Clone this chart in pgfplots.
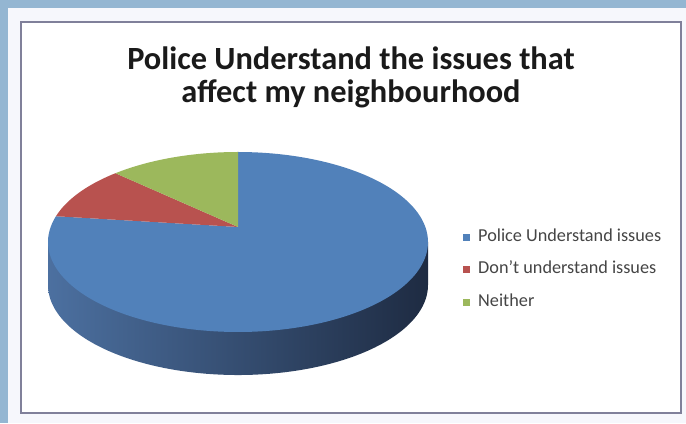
\documentclass[border=0pt]{standalone}
\usepackage{pgfplots}
\pgfplotsset{compat=1.18}
\usepackage{fontspec}
\setmainfont{Carlito}
\definecolor{frameblue}{HTML}{94B6D2}
\definecolor{paleback}{HTML}{F6F7FC}
\definecolor{boxline}{HTML}{80809A}
\definecolor{pieblue}{HTML}{5181BA}
\definecolor{piered}{HTML}{B8524F}
\definecolor{piegreen}{HTML}{9CB85C}
\definecolor{sideA}{HTML}{4C70A0}
\definecolor{sideB}{HTML}{30496F}
\definecolor{sideC}{HTML}{1E2B42}
\definecolor{titlecol}{HTML}{1A1A1A}
\definecolor{legcol}{HTML}{454545}

% shares in percent, clockwise from 12 o'clock
\def\vPolice{77}
\def\vDont{10}
\def\vNeither{13}
\pgfmathsetmacro\aA{90-3.6*\vPolice}
\pgfmathsetmacro\aB{\aA-3.6*\vDont}
\pgfmathsetmacro\aC{\aB-3.6*\vNeither}
% perspective and depth of the 3-D pie
\def\pp{0.0841}
\pgfmathsetmacro\cc{2*\pp/(1+\pp*\pp)}
\def\dd{0.478}

\begin{document}
\begin{tikzpicture}[x=1bp,y=1bp]
\useasboundingbox (0,0) rectangle (686,423);
\fill[frameblue] (0,0) rectangle (686,423);
\fill[paleback] (8,0) rectangle (686,415);
\filldraw[fill=white, draw=boxline, line width=2.5bp] (21,10) rectangle (681,401);

\node[anchor=base, font=\fontsize{32.5}{34}\selectfont\bfseries, text=titlecol] at (351,354) {Police Understand the issues that};
\node[anchor=base, font=\fontsize{32.5}{34}\selectfont\bfseries, text=titlecol] at (351,321) {affect my neighbourhood};

\begin{axis}[
  at={(0.5bp,23.5bp)}, anchor=south west,
  x=190bp, y=90bp,
  xmin=-1.25, xmax=1.25, ymin=-1.75, ymax=1.25,
  hide axis, clip=false,
  declare function={tt(\q)=atan2(sin(\q)+\pp,cos(\q))-atan2(-\pp*cos(\q),1+\pp*sin(\q));},
  legend image code/.code={\fill[#1] (0bp,-3.5bp) rectangle (7bp,3.5bp);},
  legend cell align=left,
  legend style={
    at={(0.9737,0.6315)}, anchor=north west,
    draw=none, fill=none, inner sep=0pt,
    font=\fontsize{18.3}{18}\selectfont, text=legcol,
    row sep=16.5bp,
    nodes={inner sep=0pt, text height=12bp, text depth=4bp},
    /tikz/every odd column/.append style={column sep=8bp},
  },
]
% side wall (front), drawn first
\addplot[forget plot, draw=none, left color=sideA, middle color=sideB, right color=sideC,
  domain=180:360, samples=120] ({cos(x)},{sin(x)-\dd}) -- (axis cs:1,0) -- (axis cs:-1,0) -- cycle;
% top face slices
\addplot[forget plot, draw=none, fill=pieblue, domain=\aA:90, samples=160, variable=\t]
  ({cos(tt(\t))},{sin(tt(\t))}) -- (axis cs:0,\cc) -- cycle;
\addplot[forget plot, draw=none, fill=piered, domain=\aB:\aA, samples=40, variable=\t]
  ({cos(tt(\t))},{sin(tt(\t))}) -- (axis cs:0,\cc) -- cycle;
\addplot[forget plot, draw=none, fill=piegreen, domain=\aC:\aB, samples=40, variable=\t]
  ({cos(tt(\t))},{sin(tt(\t))}) -- (axis cs:0,\cc) -- cycle;

\addlegendimage{fill=pieblue, draw=none}
\addlegendentry{Police Understand issues}
\addlegendimage{fill=piered, draw=none}
\addlegendentry{Don't understand issues}
\addlegendimage{fill=piegreen, draw=none}
\addlegendentry{Neither}
\end{axis}
\end{tikzpicture}
\end{document}
